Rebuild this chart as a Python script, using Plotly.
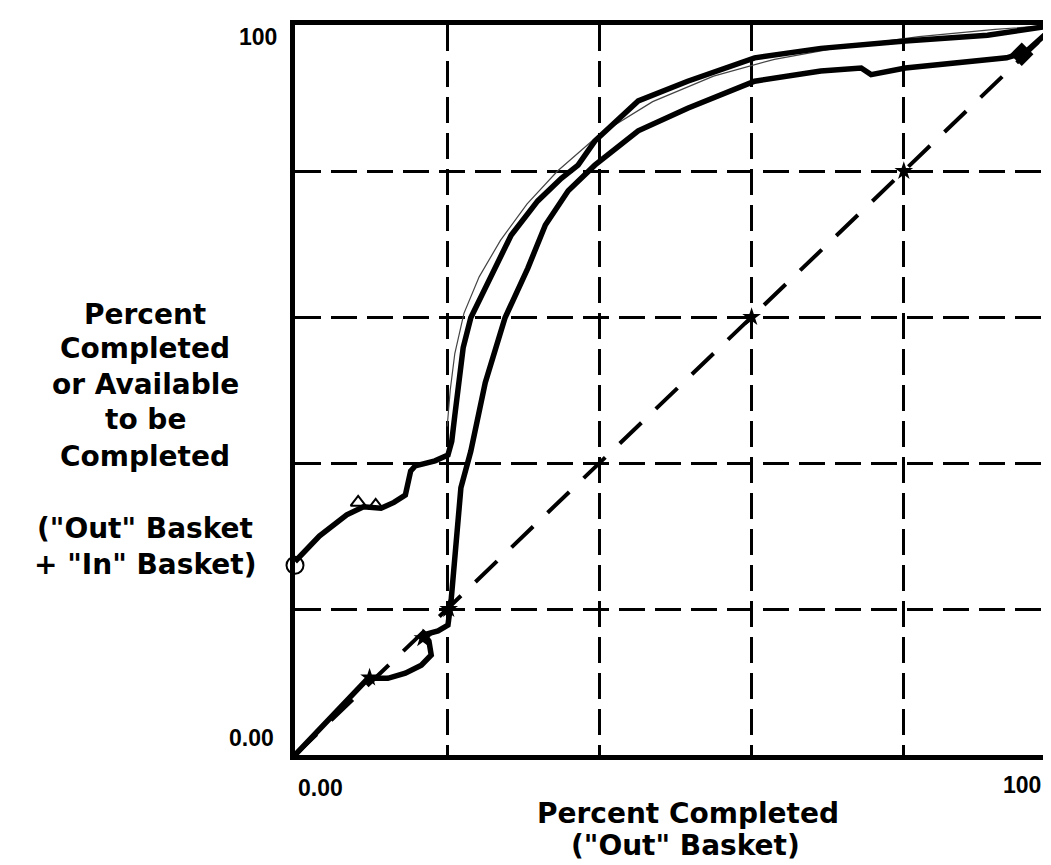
import plotly.graph_objects as go

# ---- data ----
out_in_x = [0, 3.2, 6.8, 9.0, 11.3, 13.0, 14.5, 14.8, 15.2, 15.8, 18.4, 20.1, 20.6, 21.0, 21.4, 22.1, 23.1, 25.4, 28.4, 31.9, 35.0, 37.2, 39.4, 45.1, 51.6, 60.4, 69.1, 80.2, 91.0, 100]
out_in_y = [26.5, 30.0, 32.9, 34.0, 33.8, 34.6, 35.6, 37.5, 38.9, 39.6, 40.3, 41.1, 43.0, 46.5, 50.0, 55.8, 59.9, 64.9, 71.2, 75.9, 79.0, 80.8, 84.1, 89.6, 92.3, 95.5, 96.8, 97.8, 98.6, 100]

out_x = [0, 9.6, 12.2, 14.5, 16.6, 17.9, 17.6, 17.0, 18.8, 20.1, 20.5, 21.0, 21.8, 23.1, 25.0, 27.6, 30.6, 32.9, 35.9, 39.4, 45.1, 51.6, 60.4, 69.1, 74.4, 75.7, 80.2, 93.5, 96.0, 100]
out_y = [0, 10.5, 10.5, 11.2, 12.3, 13.7, 15.6, 16.5, 17.0, 17.8, 21.0, 27.4, 36.6, 41.6, 51.0, 59.9, 66.7, 72.6, 77.3, 80.8, 85.5, 88.6, 92.3, 93.7, 94.1, 93.2, 94.1, 95.5, 96.3, 100]

faint_x = [20.0, 20.4, 21.0, 22.2, 24.2, 27.0, 30.5, 34.5, 40.0, 47.0, 55.0, 63.0, 72.0, 82.0, 92.0, 100]
faint_y = [45.0, 50.0, 55.0, 60.5, 65.5, 70.5, 75.5, 80.0, 85.0, 89.5, 93.0, 95.3, 97.0, 98.4, 99.4, 100]

diag_vals = [0, 100]
diag_star_vals = [60, 80]

out_star_x = [9.8, 16.8, 20.2]
out_star_y = [10.6, 16.0, 20.0]
out_end_x = [95.5]
out_end_y = [96.0]
out_in_start_x = [0]
out_in_start_y = [26.0]
out_in_tri_x = [8.3, 10.6]
out_in_tri_y = [34.6, 34.2]

grid_vals = [20, 40, 60, 80]

y_title_lines = ["Percent", "Completed", "or Available", "to be", "Completed", "(\"Out\" Basket", "+ \"In\" Basket)"]
x_title_lines = ["Percent Completed", "(\"Out\" Basket)"]
tick_min_label = "0.00"
tick_max_label = "100"

# ---- layout geometry (pixels) ----
W, H = 1051, 865
L, R, T, B = 287, 1048, 17, 747


def px(xp):
    return (xp - L) / (R - L)


def py(yp):
    return (B - yp) / (B - T)


fig = go.Figure()

fig.add_trace(go.Scatter(x=diag_vals, y=diag_vals, mode="lines",
                         line=dict(color="black", width=4, dash="30px,20px"),
                         hoverinfo="skip"))
fig.add_trace(go.Scatter(x=diag_star_vals, y=diag_star_vals, mode="markers",
                         marker=dict(symbol="star", size=14, color="black"),
                         hoverinfo="skip"))
fig.add_trace(go.Scatter(x=faint_x, y=faint_y, mode="lines",
                         line=dict(color="#444444", width=1.2), hoverinfo="skip"))
fig.add_trace(go.Scatter(x=out_in_x, y=out_in_y, mode="lines",
                         line=dict(color="black", width=5.5), hoverinfo="skip"))
fig.add_trace(go.Scatter(x=out_x, y=out_y, mode="lines",
                         line=dict(color="black", width=5.5), hoverinfo="skip"))
fig.add_trace(go.Scatter(x=out_star_x, y=out_star_y, mode="markers",
                         marker=dict(symbol="star", size=14, color="black"),
                         hoverinfo="skip"))
fig.add_trace(go.Scatter(x=out_end_x, y=out_end_y, mode="markers",
                         marker=dict(symbol="diamond", size=18, color="black"),
                         hoverinfo="skip"))
fig.add_trace(go.Scatter(x=out_in_start_x, y=out_in_start_y, mode="markers", cliponaxis=False,
                         marker=dict(symbol="circle-open", size=17, color="black",
                                     line=dict(width=2)),
                         hoverinfo="skip"))
fig.add_trace(go.Scatter(x=out_in_tri_x, y=out_in_tri_y, mode="markers",
                         marker=dict(symbol="triangle-up-open", size=13, color="black",
                                     line=dict(width=2)),
                         hoverinfo="skip"))

axis_common = dict(range=[0, 100], showticklabels=False, ticks="", zeroline=False,
                   tickvals=grid_vals, showgrid=True, gridcolor="black",
                   griddash="26px,10px", showline=True, linecolor="black", linewidth=5)
fig.update_xaxes(**axis_common, gridwidth=2.5, mirror=True)
fig.update_yaxes(**axis_common, gridwidth=3, mirror=False)

fig.update_layout(
    width=W, height=H,
    margin=dict(l=L, r=W - R, t=T, b=H - B),
    plot_bgcolor="white", paper_bgcolor="white",
    showlegend=False,
)

# thin right frame
fig.add_shape(type="line", xref="paper", yref="paper", x0=1, x1=1, y0=0, y1=0.75,
              line=dict(color="black", width=1.5))

tick_font = dict(family="Liberation Sans", size=23, color="black")
title_font = dict(family="DejaVu Sans", size=28, color="black")

ann = []
ann.append(dict(text="<b>%s</b>" % tick_max_label, x=px(250), y=py(29), font=tick_font))
ann.append(dict(text="<b>%s</b>" % tick_min_label, x=px(243), y=py(730), font=tick_font))
ann.append(dict(text="<b>%s</b>" % tick_min_label, x=px(312), y=py(780), font=tick_font))
ann.append(dict(text="<b>%s</b>" % tick_max_label, x=px(1014), y=py(777), font=tick_font))

y_title_pos = [306, 340, 376, 412, 448, 520, 556]
for t, yy in zip(y_title_lines, y_title_pos):
    ann.append(dict(text="<b>%s</b>" % t, x=px(137), y=py(yy), font=title_font))

x_title_pos = [(680, 805), (677, 837)]
for t, (xx, yy) in zip(x_title_lines, x_title_pos):
    ann.append(dict(text="<b>%s</b>" % t, x=px(xx), y=py(yy), font=title_font))

for a in ann:
    a.update(xref="paper", yref="paper", xanchor="center", yanchor="middle", showarrow=False)
fig.update_layout(annotations=ann)

fig.write_html("out.html")
